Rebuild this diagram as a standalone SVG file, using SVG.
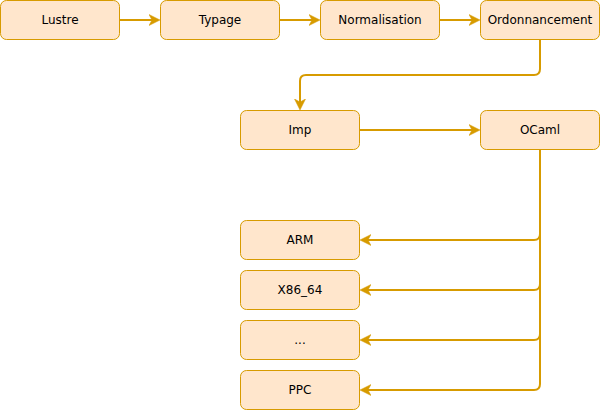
<svg xmlns="http://www.w3.org/2000/svg" width="601" height="411" viewBox="0 0 601 411">
<style>
.n rect{fill:#ffe6cc;stroke:#d79b00;stroke-width:1}
.n text{font-family:"DejaVu Sans",sans-serif;font-size:12px;fill:#000;text-anchor:middle;dominant-baseline:central}
.e path{fill:none;stroke:#d79b00;stroke-width:2;marker-end:url(#a)}
</style>
<defs>
<marker id="a" markerUnits="userSpaceOnUse" markerWidth="12" markerHeight="12" viewBox="0 -6 12 12" refX="7" refY="0" orient="auto">
<path d="M0,-5.5 L11,0 L0,5.5 L3,0 Z" fill="#d79b00" stroke="#d79b00" stroke-width="0.5" stroke-linejoin="miter"/>
</marker>
</defs>
<rect width="601" height="411" fill="#fff"/>
<g class="e" id="connectors">
<path d="M120,20 H156"/>
<path d="M280,20 H316"/>
<path d="M440,20 H476"/>
<path d="M540,40 V69 Q540,75 534,75 H306 Q300,75 300,81 V106"/>
<path d="M360,130 H476"/>
<path d="M540,150 V234 Q540,240 534,240 H364"/>
<path d="M540,150 V284 Q540,290 534,290 H364"/>
<path d="M540,150 V334 Q540,340 534,340 H364"/>
<path d="M540,150 V384 Q540,390 534,390 H364"/>
</g>
<g class="n" id="lustre"><rect x="0.5" y="0.5" width="119" height="39" rx="6"/><text x="60" y="20">Lustre</text></g>
<g class="n" id="typage"><rect x="160.5" y="0.5" width="119" height="39" rx="6"/><text x="220" y="20">Typage</text></g>
<g class="n" id="normalisation"><rect x="320.5" y="0.5" width="119" height="39" rx="6"/><text x="380" y="20">Normalisation</text></g>
<g class="n" id="ordonnancement"><rect x="480.5" y="0.5" width="119" height="39" rx="6"/><text x="540" y="20">Ordonnancement</text></g>
<g class="n" id="imp"><rect x="240.5" y="110.5" width="119" height="39" rx="6"/><text x="300" y="130">Imp</text></g>
<g class="n" id="ocaml"><rect x="480.5" y="110.5" width="119" height="39" rx="6"/><text x="540" y="130">OCaml</text></g>
<g class="n" id="arm"><rect x="240.5" y="220.5" width="119" height="39" rx="6"/><text x="300" y="240">ARM</text></g>
<g class="n" id="x86"><rect x="240.5" y="270.5" width="119" height="39" rx="6"/><text x="300" y="290">X86_64</text></g>
<g class="n" id="etc"><rect x="240.5" y="320.5" width="119" height="39" rx="6"/><text x="300" y="340">...</text></g>
<g class="n" id="ppc"><rect x="240.5" y="370.5" width="119" height="39" rx="6"/><text x="300" y="390">PPC</text></g>
</svg>
